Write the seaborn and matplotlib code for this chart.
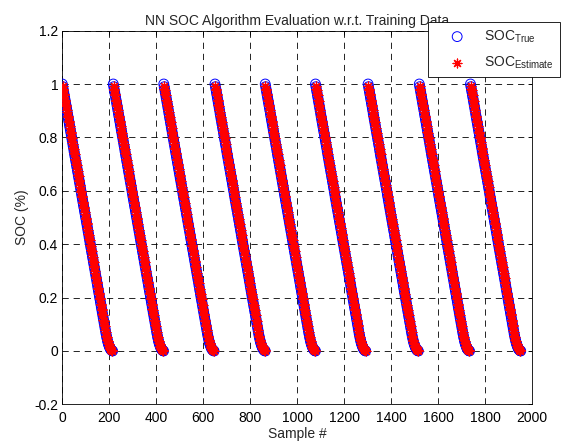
import matplotlib
matplotlib.use("Agg")
import matplotlib.pyplot as plt
import numpy as np
import pandas as pd
import seaborn as sns

# cycle start sample for each discharge run
cycle_starts = [0, 217, 432, 650, 864, 1078, 1302, 1520, 1738]
profile_step = 2  # samples between stored points

# SOC of one discharge run (true), every 2 samples starting at 0
soc_true = [1.000, 0.990, 0.980, 0.970, 0.960, 0.950, 0.940, 0.930, 0.920, 0.910,
            0.900, 0.889, 0.879, 0.869, 0.859, 0.849, 0.839, 0.829, 0.819, 0.809,
            0.799, 0.789, 0.779, 0.769, 0.759, 0.748, 0.738, 0.728, 0.718, 0.708,
            0.698, 0.688, 0.678, 0.668, 0.658, 0.648, 0.638, 0.628, 0.618, 0.608,
            0.598, 0.587, 0.577, 0.567, 0.557, 0.547, 0.537, 0.527, 0.517, 0.507,
            0.497, 0.487, 0.477, 0.467, 0.457, 0.447, 0.437, 0.426, 0.416, 0.406,
            0.396, 0.386, 0.376, 0.366, 0.356, 0.346, 0.336, 0.326, 0.316, 0.306,
            0.296, 0.286, 0.276, 0.266, 0.256, 0.245, 0.235, 0.225, 0.215, 0.205,
            0.195, 0.185, 0.175, 0.165, 0.155, 0.145, 0.135, 0.125, 0.115, 0.105,
            0.095, 0.085, 0.075, 0.065, 0.056, 0.048, 0.040, 0.033, 0.027, 0.022,
            0.017, 0.013, 0.009, 0.006, 0.004, 0.002, 0.001, 0.000]
# NN estimate, every 2 samples starting at 1
soc_est = [0.993, 0.981, 0.977, 0.963, 0.957, 0.941, 0.937, 0.922, 0.918, 0.902,
           0.897, 0.881, 0.876, 0.861, 0.857, 0.841, 0.836, 0.821, 0.817, 0.801,
           0.796, 0.781, 0.777, 0.761, 0.756, 0.740, 0.736, 0.720, 0.716, 0.700,
           0.695, 0.680, 0.676, 0.660, 0.655, 0.640, 0.636, 0.620, 0.615, 0.600,
           0.595, 0.579, 0.575, 0.559, 0.554, 0.539, 0.535, 0.519, 0.514, 0.499,
           0.494, 0.479, 0.475, 0.459, 0.454, 0.439, 0.434, 0.418, 0.414, 0.398,
           0.393, 0.378, 0.374, 0.358, 0.353, 0.338, 0.334, 0.318, 0.313, 0.298,
           0.294, 0.278, 0.273, 0.258, 0.253, 0.237, 0.233, 0.217, 0.212, 0.197,
           0.193, 0.177, 0.172, 0.157, 0.152, 0.137, 0.133, 0.117, 0.112, 0.097,
           0.093, 0.077, 0.072, 0.058, 0.054, 0.042, 0.039, 0.029, 0.026, 0.019,
           0.016, 0.011, 0.009, 0.005, 0.004, 0.002, 0.001]
est_offset = 1

x_ticks = [0, 200, 400, 600, 800, 1000, 1200, 1400, 1600, 1800, 2000]
y_ticks = [-0.2, 0, 0.2, 0.4, 0.6, 0.8, 1, 1.2]
y_ticklabels = ["-0.2", "0", "0.2", "0.4", "0.6", "0.8", "1", "1.2"]

rows_true, rows_est = [], []
for c in cycle_starts:
    for i, v in enumerate(soc_true):
        rows_true.append((c + i * profile_step, v))
    for i, v in enumerate(soc_est):
        rows_est.append((c + est_offset + i * profile_step, v))
df_true = pd.DataFrame(rows_true, columns=["sample", "soc"])
df_est = pd.DataFrame(rows_est, columns=["sample", "soc"])

sns.set_style("white")
plt.rcParams["font.family"] = ["Liberation Sans", "DejaVu Sans"]
plt.rcParams["mathtext.default"] = "regular"
plt.rcParams["font.size"] = 10
plt.rcParams["lines.scale_dashes"] = False

fig = plt.figure(figsize=(5.65, 4.41), dpi=100)
ax = fig.add_axes([0.1103, 0.0830, 0.8313, 0.8476])

sns.scatterplot(data=df_true, x="sample", y="soc", ax=ax, marker="o", s=50,
                facecolors="none", edgecolor="blue", linewidth=0.7,
                label="SOC$_{True}$", zorder=3)
sns.scatterplot(data=df_est, x="sample", y="soc", ax=ax, marker=(8, 2, 0), s=40,
                color="red", linewidth=0.9, label="SOC$_{Estimate}$", zorder=4)

ax.set_xlim(0, 2000)
ax.set_ylim(-0.2, 1.2)
ax.set_xticks(x_ticks)
ax.set_xticklabels([str(t) for t in x_ticks])
ax.set_yticks(y_ticks)
ax.set_yticklabels(y_ticklabels)
ax.grid(True, color="black", linestyle=(0, (4.5, 3.5)), linewidth=0.6)
ax.set_axisbelow(True)
ax.tick_params(direction="in", length=3, width=0.6, top=True, right=True,
               labelsize=10, colors="black")
ax.tick_params(axis="x", pad=5)
ax.tick_params(axis="y", pad=3)
for s in ax.spines.values():
    s.set_color("black")
    s.set_linewidth(0.6)

ax.set_title("NN SOC Algorithm Evaluation w.r.t. Training Data", fontsize=10, pad=4)
ax.set_xlabel("Sample #", fontsize=10, labelpad=1)
ax.set_ylabel("SOC (%)", fontsize=10, labelpad=4)

leg = ax.legend(loc="upper left", bbox_to_anchor=(428 / 565, 1 - 22 / 441),
                bbox_transform=fig.transFigure, borderaxespad=0, fontsize=10,
                frameon=True, fancybox=False, framealpha=1, edgecolor="black",
                handlelength=3.3, handletextpad=0.3, borderpad=0.45,
                labelspacing=0.7, markerscale=1.0)
leg.get_frame().set_linewidth(0.6)

fig.savefig("out.png", dpi=100, facecolor="white")
